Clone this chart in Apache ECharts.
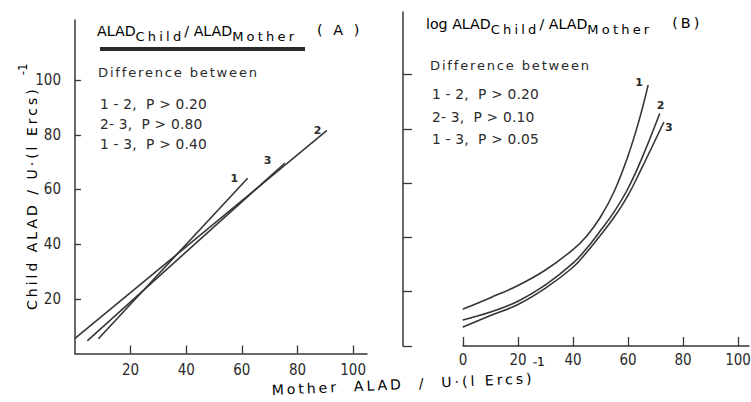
<!DOCTYPE html>
<html>
<head>
<meta charset="utf-8">
<script src="https://cdn.jsdelivr.net/npm/echarts@6/dist/echarts.min.js"></script>
<style>
  html, body { margin: 0; padding: 0; background: #ffffff; }
  #chart { width: 751px; height: 402px; }
  /* letter spacing per text role (keyed by font size) */
  #chart text[style*="14px"]   { letter-spacing: 3px; }
  #chart text[style*="13px"]   { letter-spacing: 3.2px; }
  #chart text[style*="14.4px"] { letter-spacing: 3px; }
  #chart text[style*="13.1px"] { letter-spacing: 1.8px; }
  #chart text[style*="13.8px"] { letter-spacing: 0.2px; }
</style>
</head>
<body>
<div id="chart"></div>
<script>
// Panel A: child vs mother ALAD regression lines (start and end points)
const lineA1X = [8.5, 62];
const lineA1Y = [5.5, 64];
const lineA2X = [0, 90.5];
const lineA2Y = [5.5, 81.5];
const lineA3X = [4.5, 75.4];
const lineA3Y = [4.7, 69.6];

// Panel B: log-linear fits, points along each curve
const curveB1X = [0, 10, 20, 30, 40, 45, 50, 55, 60, 64, 67.3];
const curveB1Y = [13.6, 17.8, 22.3, 28, 35.5, 40.5, 47.5, 57, 70, 83, 96];
const curveB2X = [0, 10, 20, 30, 40, 45, 50, 55, 60, 65, 71.5];
const curveB2Y = [9.6, 12.5, 16.5, 22.5, 30.5, 36, 42.5, 49.5, 58, 69, 85.5];
const curveB3X = [0, 10, 20, 30, 40, 45, 50, 55, 60, 65, 73];
const curveB3Y = [7.0, 11.2, 15.3, 21.3, 29, 34.5, 40.8, 47.5, 55.5, 65.5, 82.4];

const groupNames = ['1', '2', '3'];
const ticksA = [20, 40, 60, 80, 100];
const ticksBX = [0, 20, 40, 60, 80, 100];
const ticksBY = [0, 20, 40, 60, 80, 100];

const notesA = ['1 - 2,  P > 0.20', '2- 3,  P > 0.80', '1 - 3,  P > 0.40'];
const notesB = ['1 - 2,  P > 0.20', '2- 3,  P > 0.10', '1 - 3,  P > 0.05'];

const INK = '#2b2b2b';
const LINE = '#363636';
const SANS = '"DejaVu Sans", sans-serif';
const NARROW = '"Liberation Sans Narrow", "DejaVu Sans Condensed", "DejaVu Sans", sans-serif';

function pairs(xs, ys, name, off) {
  return xs.map(function (x, i) {
    const item = { value: [x, ys[i]] };
    if (i === xs.length - 1) {
      item.label = {
        show: true, formatter: name, position: 'inside', offset: off,
        fontSize: 11, fontFamily: SANS, fontWeight: 'bold', color: INK
      };
    }
    return item;
  });
}

function lineSeries(xs, ys, name, axisIdx, off, smooth) {
  return {
    type: 'line', name: name,
    xAxisIndex: axisIdx, yAxisIndex: axisIdx,
    data: pairs(xs, ys, name, off),
    smooth: smooth,
    symbol: 'circle', symbolSize: 1, showSymbol: true,
    itemStyle: { color: LINE },
    lineStyle: { color: LINE, width: 1.6 },
    label: { show: false },
    silent: true, animation: false
  };
}

function axisBase() {
  return {
    type: 'value', splitLine: { show: false },
    axisLine: { show: true, onZero: false, lineStyle: { color: LINE, width: 1.5 } }
  };
}

function noteBlock(x, y, lines, firstGap, step) {
  const els = [{
    type: 'text', left: x, top: y,
    style: { text: 'Difference between', fontSize: 13.1, fontFamily: SANS, fill: INK }
  }];
  lines.forEach(function (t, i) {
    els.push({
      type: 'text', left: x + 2, top: y + firstGap + i * step,
      style: { text: t, fontSize: 13.8, fontFamily: SANS, fill: INK }
    });
  });
  return els;
}

// rich tokens for the panel headings; spaced subscripts carry matching right padding
const tokenStyles = {
  a: { fontSize: 14.2, fontFamily: SANS, color: INK, verticalAlign: 'bottom', padding: [0, 0, 5, 0] },
  c: { fontSize: 13, fontFamily: SANS, color: INK, verticalAlign: 'bottom', padding: [0, 16, 0, 0] },
  m: { fontSize: 13, fontFamily: SANS, color: INK, verticalAlign: 'bottom', padding: [0, 19, 0, 0] },
  p: { fontSize: 14.4, fontFamily: SANS, color: INK, verticalAlign: 'bottom', padding: [0, 0, 6, 20] }
};

const chart = echarts.init(document.getElementById('chart'), null, { renderer: 'svg' });

chart.setOption({
  backgroundColor: '#ffffff',
  animation: false,
  grid: [
    { left: 75, top: 20, width: 292, height: 333.5, outerBoundsMode: 'none' },
    { left: 463, top: 12, width: 286, height: 334, outerBoundsMode: 'none' }
  ],
  xAxis: [
    Object.assign(axisBase(), {
      gridIndex: 0, min: 0, max: 105, interval: 20,
      axisTick: { inside: true, length: 8, customValues: ticksA, lineStyle: { color: LINE, width: 1.3 } },
      axisLabel: { customValues: ticksA, margin: 9, fontSize: 15, fontFamily: NARROW, color: INK }
    }),
    Object.assign(axisBase(), {
      gridIndex: 1, min: 0, max: 104, interval: 20,
      axisTick: { inside: true, length: 9, customValues: ticksBX, lineStyle: { color: LINE, width: 1.3 } },
      axisLabel: { customValues: ticksBX, margin: 6, fontSize: 15, fontFamily: NARROW, color: INK }
    })
  ],
  yAxis: [
    Object.assign(axisBase(), {
      gridIndex: 0, min: 0, max: 122, interval: 20,
      axisTick: { inside: true, length: 6, customValues: ticksA, lineStyle: { color: LINE, width: 1.3 } },
      axisLabel: { customValues: ticksA, margin: 14, fontSize: 15, fontFamily: NARROW, color: INK }
    }),
    Object.assign(axisBase(), {
      gridIndex: 1, min: 0, max: 123, interval: 20, offset: 60,
      axisTick: { inside: true, length: 9, customValues: ticksBY, lineStyle: { color: LINE, width: 1.3 } },
      axisLabel: { show: false }
    })
  ],
  series: [
    lineSeries(lineA1X, lineA1Y, groupNames[0], 0, [-13, 0], false),
    lineSeries(lineA2X, lineA2Y, groupNames[1], 0, [-9, 0], false),
    lineSeries(lineA3X, lineA3Y, groupNames[2], 0, [-17, -3], false),
    lineSeries(curveB1X, curveB1Y, groupNames[0], 1, [-9, -3], 0.4),
    lineSeries(curveB2X, curveB2Y, groupNames[1], 1, [1, -8], 0.4),
    lineSeries(curveB3X, curveB3Y, groupNames[2], 1, [5, 5], 0.4)
  ],
  graphic: [
    // panel A heading with rule underneath
    {
      type: 'text', left: 97, top: 23,
      style: {
        text: '{a|ALAD}{c|Child}{a|/ ALAD}{m|Mother}{p|( A )}',
        rich: tokenStyles
      }
    },
    { type: 'rect', shape: { x: 100, y: 47, width: 205, height: 4 }, style: { fill: '#2a2a2a' } },
    // panel B heading
    {
      type: 'text', left: 426, top: 16,
      style: {
        text: '{a|log ALAD}{c|Child}{a|/ ALAD}{m|Mother}{p|(B)}',
        rich: tokenStyles
      }
    }
  ]
  .concat(noteBlock(98, 66, notesA, 31, 20))
  .concat(noteBlock(430, 59, notesB, 28, 22.5))
  .concat([
    // shared axis titles
    {
      type: 'text', x: 28, y: 310, rotation: Math.PI / 2,
      style: {
        text: '{m|Child ALAD / U·(l Ercs)}{e|-1}',
        align: 'left', verticalAlign: 'middle',
        rich: {
          m: { fontSize: 14, fontFamily: SANS, color: INK, verticalAlign: 'bottom' },
          e: { fontSize: 12, fontFamily: SANS, color: INK, verticalAlign: 'bottom', padding: [0, 0, 10, 80] }
        }
      }
    },
    {
      type: 'text', x: 272, y: 397, rotation: 0.045,
      style: {
        text: '{m|Mother  ALAD  /  U·(l Ercs)}{e|-1}',
        align: 'left', verticalAlign: 'bottom',
        rich: {
          m: { fontSize: 14, fontFamily: SANS, color: INK, verticalAlign: 'bottom' },
          e: { fontSize: 12, fontFamily: SANS, color: INK, verticalAlign: 'bottom', padding: [0, 0, 17, 80] }
        }
      }
    }
  ])
});
</script>
</body>
</html>
